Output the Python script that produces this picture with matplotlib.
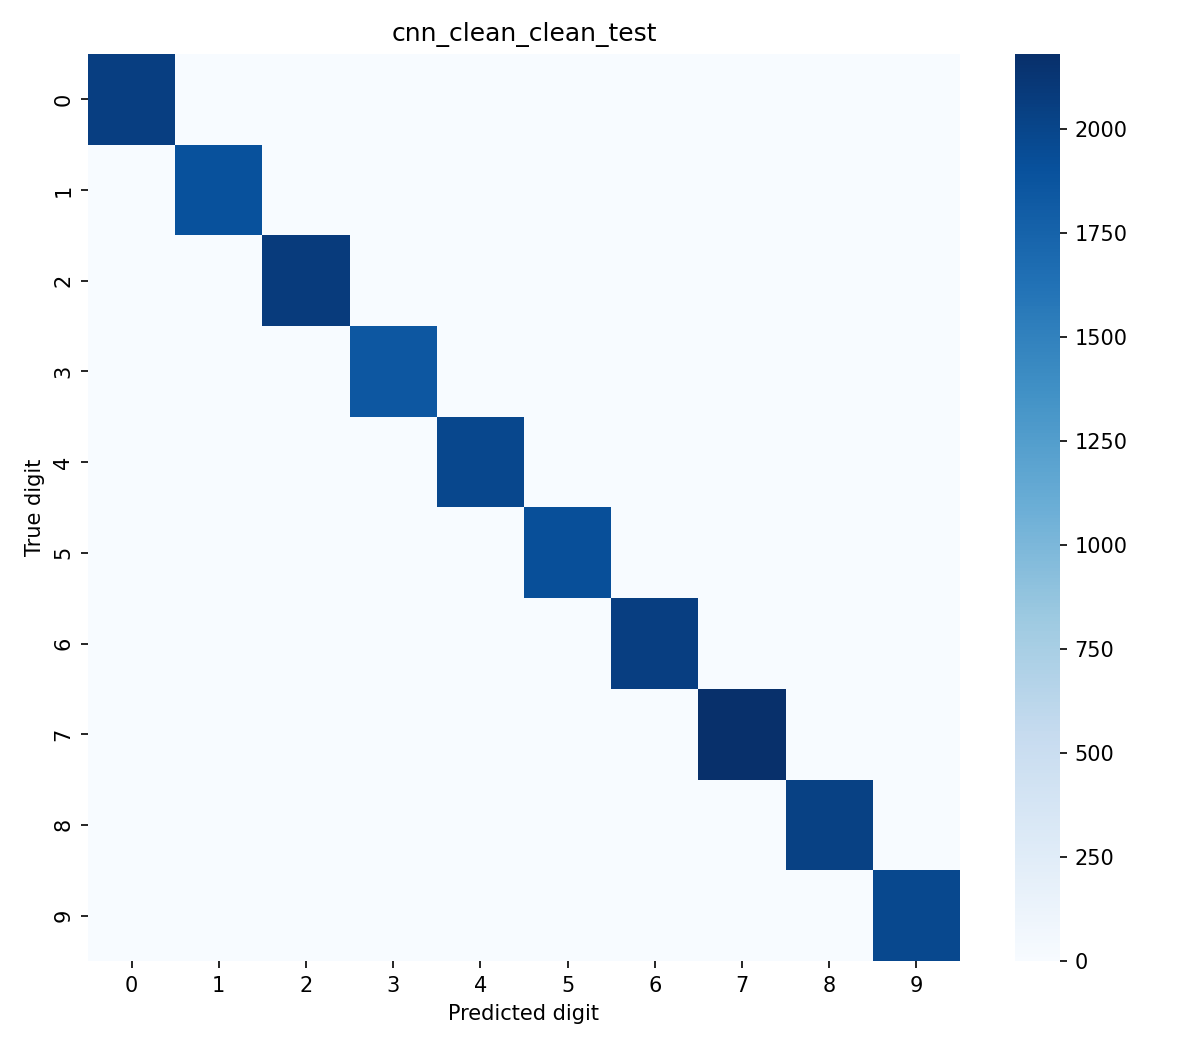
import numpy as np
import matplotlib
matplotlib.use("Agg")
import matplotlib.pyplot as plt
import seaborn as sns

digits = list(range(10))
# diagonal counts (correct predictions)
correct = [2060, 1900, 2080, 1850, 1990, 1920, 2060, 2180, 2040, 1980]

cm = np.zeros((10, 10), dtype=int)
for i, c in enumerate(correct):
    cm[i, i] = c

fig = plt.figure(figsize=(8, 7), dpi=150)
ax = fig.add_axes([0.0733, 0.0848, 0.7267, 0.8638])
cax = fig.add_axes([0.8458, 0.0848, 0.0375, 0.8638])

sns.heatmap(cm, cmap="Blues", ax=ax, cbar_ax=cax,
            xticklabels=digits, yticklabels=digits)
ax.set_xlabel("Predicted digit")
ax.set_ylabel("True digit")
ax.set_title("cnn_clean_clean_test")

fig.savefig("out.png", dpi=150)
plt.close(fig)
